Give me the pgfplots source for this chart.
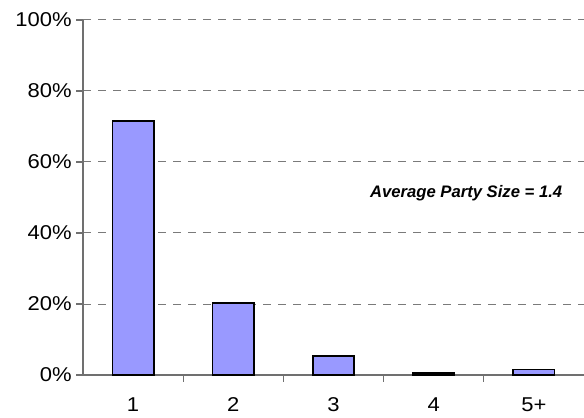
\documentclass[border=0pt]{standalone}
\usepackage{fontspec}
\setmainfont{Liberation Sans}
\newfontfamily\tickfont[FakeStretch=1.1]{Liberation Sans}
\usepackage{pgfplots}
\pgfplotsset{compat=1.18}
\definecolor{barfill}{HTML}{9999FF}
\definecolor{axisgray}{HTML}{707070}
\definecolor{gridgray}{HTML}{7A7A7A}
\begin{document}
\begin{tikzpicture}[x=0.75pt,y=0.75pt]
\begin{axis}[
  name=ax,
  scale only axis,
  width=375.75pt, height=266.25pt,
  xmin=0.5, xmax=5.5,
  ymin=0, ymax=100,
  axis x line*=bottom, axis y line*=left,
  axis line style={axisgray, line width=0.8pt},
  xtick={1,2,3,4,5},
  xticklabels={1,2,3,4,5+},
  major x tick style={draw=none},
  minor xtick={1.5,2.5,3.5,4.5},
  minor x tick style={axisgray, line width=0.8pt},
  minor tick length=5pt,
  x tick label style={yshift=-8.5pt, text height=10.5pt, text depth=0pt},
  ytick={0,20,40,60,80,100},
  yticklabels={0\%,20\%,40\%,60\%,80\%,100\%},
  y tick style={axisgray, line width=0.8pt},
  major tick length=5pt,
  tick align=outside,
  ymajorgrids,
  grid style={gridgray, dash pattern=on 6pt off 5.25pt, line width=0.75pt},
  tick label style={font=\tickfont\fontsize{15}{17}\selectfont},
  /pgf/number format/assume math mode=true,
  clip=false,
]
\addplot[ybar, bar width=31pt, fill=barfill, draw=black, line width=1.2pt]
  coordinates {(1,71.6) (2,20.2) (3,5.3) (4,0.6) (5,1.6)};
\node[anchor=east, font=\fontsize{12.5}{14}\selectfont\bfseries\itshape]
  at (axis cs:5.33,51.3) {Average Party Size = 1.4};
\end{axis}
\pgfresetboundingbox
\path[use as bounding box] ([xshift=-62.25pt,yshift=-31.5pt]ax.south west) rectangle ([yshift=15pt]ax.north east);
\end{tikzpicture}
\end{document}
